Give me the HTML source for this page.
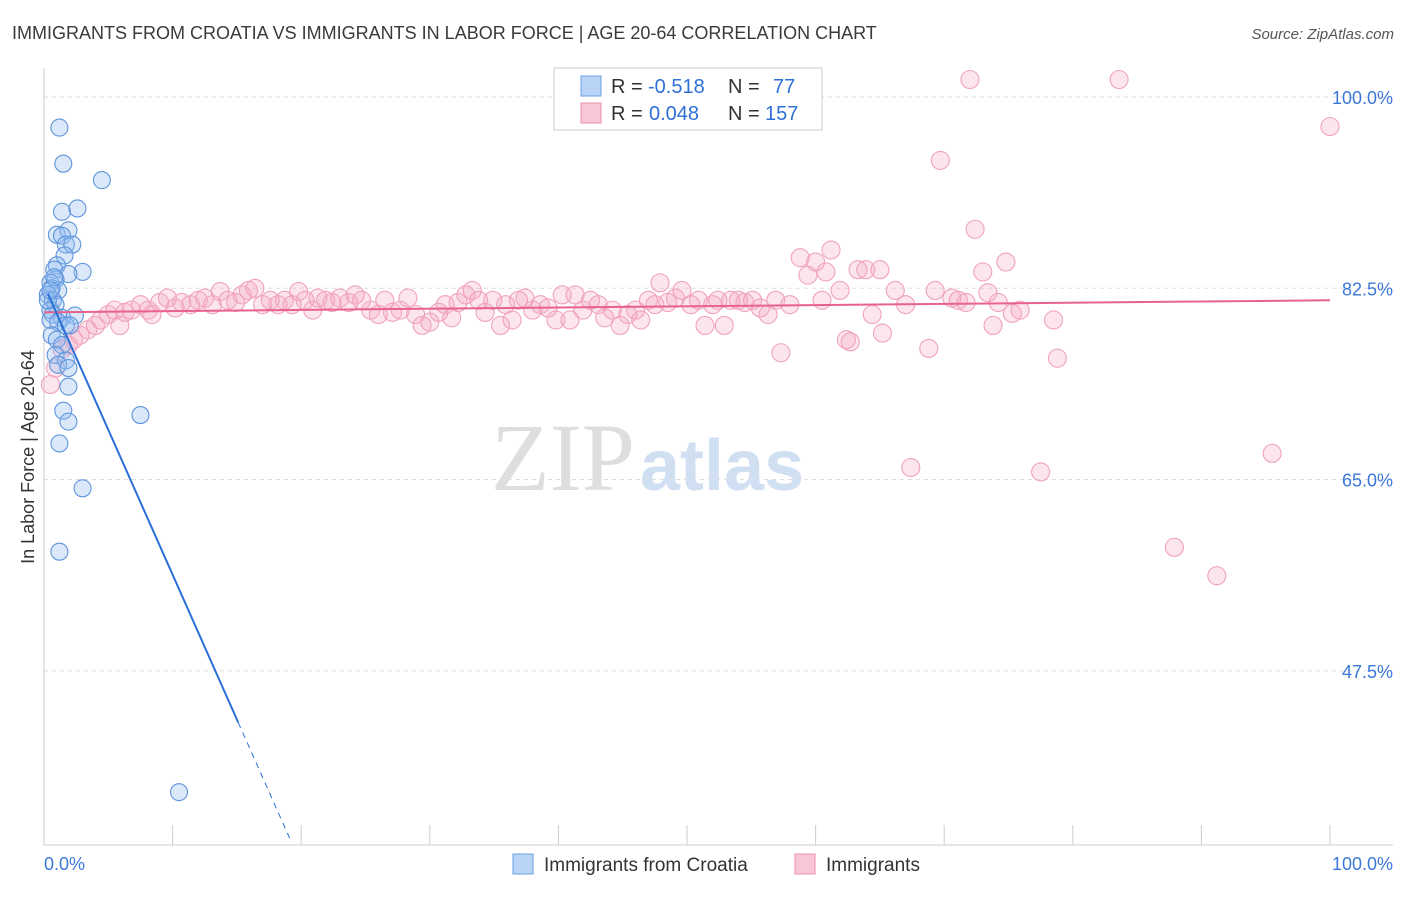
<!DOCTYPE html>
<html><head><meta charset="utf-8"><style>
body{margin:0;background:#fff;font-family:"Liberation Sans",sans-serif}
</style></head><body>
<svg id="chart" width="1406" height="892" xmlns="http://www.w3.org/2000/svg" font-family="Liberation Sans, sans-serif">
<text x="12" y="39" font-size="18" fill="#3a3a3a">IMMIGRANTS FROM CROATIA VS IMMIGRANTS IN LABOR FORCE | AGE 20-64 CORRELATION CHART</text>
<text x="1394" y="39" font-size="15" fill="#555" text-anchor="end" font-style="italic">Source: ZipAtlas.com</text>
<g>
<text x="635" y="490" font-size="96" fill="#dedede" text-anchor="end" font-family="Liberation Serif, serif">ZIP</text>
<text x="640" y="490" font-size="72" fill="#d0dff2" font-weight="bold">atlas</text>
</g>
<g id="grid"></g>
<g id="axes"></g>
<g id="marks"></g>
<text transform="translate(34,457) rotate(-90)" font-size="18" fill="#333" text-anchor="middle">In Labor Force | Age 20-64</text>
<g>
<rect x="554" y="68" width="268" height="62" fill="#fff" stroke="#ccc"/>
<rect x="581" y="76" width="20" height="20" fill="#b8d3f5" stroke="#6a9fe0"/>
<rect x="581" y="103" width="20" height="20" fill="#f9c6d6" stroke="#ec8fb0"/>
<text x="611" y="93" font-size="20" fill="#333">R =</text>
<text x="648" y="93" font-size="20" fill="#2f6fd6">-0.518</text>
<text x="728" y="93" font-size="20" fill="#333">N =</text>
<text x="773" y="93" font-size="20" fill="#2f6fd6">77</text>
<text x="611" y="120" font-size="20" fill="#333">R =</text>
<text x="649" y="120" font-size="20" fill="#2f6fd6">0.048</text>
<text x="728" y="120" font-size="20" fill="#333">N =</text>
<text x="765" y="120" font-size="20" fill="#2f6fd6">157</text>
</g>
<g>
<rect x="513" y="854" width="20" height="20" fill="#b8d3f5" stroke="#6a9fe0"/>
<text x="544" y="871" font-size="19" fill="#333">Immigrants from Croatia</text>
<rect x="795" y="854" width="20" height="20" fill="#f9c6d6" stroke="#ec8fb0"/>
<text x="826" y="871" font-size="19" fill="#333">Immigrants</text>
</g>
</svg>
<script>
const yTicks=[100,82.5,65,47.5];
const yTickLabels=["100.0%","82.5%","65.0%","47.5%"];
const xTickLabels=["0.0%","100.0%"];
const blueX=[1.2,1.5,4.5,1.4,2.6,1.0,1.9,1.4,1.7,2.2,1.6,1.0,0.8,3.0,1.9,0.9,0.5,0.6,1.1,0.3,0.7,0.9,0.5,0.7,1.4,2.4,0.5,1.1,1.7,0.6,1.0,1.4,0.9,1.7,1.1,1.9,1.9,1.5,7.5,1.9,1.2,3.0,1.2,10.5,0.8,0.3,2.0,0.5];
const blueY=[97.2,93.9,92.4,89.5,89.8,87.4,87.8,87.3,86.5,86.5,85.5,84.6,84.2,84.0,83.8,83.3,83.0,82.5,82.3,81.9,81.4,81.0,80.5,80.1,79.8,80.0,79.6,79.4,79.1,78.2,77.8,77.3,76.4,75.9,75.5,75.2,73.5,71.3,70.9,70.3,68.3,64.2,58.4,36.4,83.5,81.4,79.1,82.3];
const pinkX=[0.5,0.9,1.4,1.9,2.3,2.8,3.4,4.0,4.4,5.0,5.5,5.9,6.3,6.8,7.5,8.1,8.4,9.0,9.6,10.2,10.7,11.4,12.0,12.5,13.1,13.7,14.3,14.9,15.4,15.9,16.4,17.0,17.6,18.2,18.7,19.3,19.8,20.3,20.9,21.3,21.9,22.4,23.0,23.7,24.2,24.7,25.4,26.0,26.5,27.1,27.7,28.3,28.9,29.4,30.0,30.7,31.2,31.7,32.2,32.8,33.3,33.8,34.3,34.9,35.5,35.9,36.4,36.9,37.4,38.0,38.6,39.2,39.8,40.3,40.9,41.3,41.9,42.5,43.1,43.6,44.2,44.8,45.4,46.0,46.4,47.0,47.5,47.9,48.5,49.1,49.6,50.3,50.9,51.4,52.0,52.4,52.9,53.4,54.0,54.5,55.1,55.7,56.3,56.9,57.3,58.0,58.8,59.4,60.0,60.5,60.8,61.2,61.9,62.4,62.7,63.3,63.9,64.4,65.0,65.2,66.2,67.0,67.4,68.8,69.3,69.7,70.6,71.1,71.7,72.0,72.4,73.0,73.4,73.8,74.2,74.8,75.3,75.9,77.5,78.5,78.8,83.6,87.9,91.2,95.5,100.0];
const pinkY=[73.7,75.2,76.9,77.3,77.8,78.2,78.7,79.1,79.6,80.1,80.5,79.1,80.3,80.5,81.0,80.5,80.1,81.2,81.6,80.7,81.2,81.0,81.4,81.6,81.0,82.2,81.4,81.2,81.9,82.3,82.5,81.0,81.4,81.0,81.4,81.0,82.2,81.4,80.5,81.6,81.4,81.2,81.6,81.2,81.9,81.4,80.5,80.1,81.4,80.3,80.5,81.6,80.1,79.1,79.4,80.3,81.0,79.8,81.2,81.9,82.3,81.4,80.3,81.4,79.1,81.0,79.6,81.4,81.6,80.5,81.0,80.7,79.6,81.9,79.6,81.9,80.5,81.4,81.0,79.8,80.5,79.1,80.1,80.5,79.6,81.4,81.0,83.0,81.2,81.6,82.3,81.0,81.4,79.1,81.0,81.4,79.1,81.4,81.4,81.2,81.4,80.7,80.1,81.4,76.6,81.0,85.3,83.7,84.9,81.4,84.0,86.0,82.3,77.8,77.6,84.2,84.2,80.1,84.2,78.4,82.3,81.0,66.1,77.0,82.3,94.2,81.6,81.4,81.2,101.6,87.9,84.0,82.1,79.1,81.2,84.9,80.2,80.5,65.7,79.6,76.1,101.6,58.8,56.2,67.4,97.3];
const blueTrend={intercept:82.8,slope:-2.65,solidEnd:15.1,dashEnd:19.1,start:0.3};
const pinkTrend={intercept:80.3,slope:0.011};
const NS="http://www.w3.org/2000/svg";
const xs=v=>44+v*12.86;
const ys=v=>97+(100-v)*10.93;
function mk(tag,attrs,parent){const e=document.createElementNS(NS,tag);for(const k in attrs)e.setAttribute(k,attrs[k]);parent.appendChild(e);return e;}
const grid=document.getElementById('grid'),axes=document.getElementById('axes'),marks=document.getElementById('marks');
yTicks.forEach((t,i)=>{
 const l=mk('line',{x1:44,x2:1393,y1:ys(t),y2:ys(t),stroke:'#ddd','stroke-dasharray':'4,4'},grid);
 
 
 const tx=mk('text',{x:1393,y:ys(t)+7,'font-size':18,fill:'#3b78d8','text-anchor':'end'},axes);
 tx.textContent=yTickLabels[i];
 
 
});
mk('line',{x1:44,x2:44,y1:68,y2:845,stroke:'#ccc'},axes);
mk('line',{x1:44,x2:1393,y1:845,y2:845,stroke:'#ccc'},axes);
for(let i=0;i<=10;i++){const t=mk('line',{x1:xs(i*10),x2:xs(i*10),y1:825,y2:845,stroke:'#ccc'},axes);
 
 }
[[0,'start',44],[100,'end',1393]].forEach((a,i)=>{const tx=mk('text',{x:a[2],y:870,'font-size':18,fill:'#3b78d8','text-anchor':a[1]},axes);tx.textContent=xTickLabels[i];
 
 });
pinkX.forEach((x,i)=>{const c=mk('circle',{cx:xs(x),cy:ys(pinkY[i]),r:9,fill:'rgba(246,170,196,0.3)',stroke:'#f0a2bf','stroke-width':1.1},marks);
 
 });
blueX.forEach((x,i)=>{const c=mk('circle',{cx:xs(x),cy:ys(blueY[i]),r:8.5,fill:'rgba(150,190,240,0.35)',stroke:'#5f95dc','stroke-width':1.1},marks);
 
 });
const pl=mk('line',{x1:xs(0),y1:ys(pinkTrend.intercept),x2:xs(100),y2:ys(pinkTrend.intercept+pinkTrend.slope*100),stroke:'#e8628e','stroke-width':2},marks);


const bt=blueTrend,bf=x=>bt.intercept+bt.slope*x;
const bl=mk('line',{x1:xs(bt.start),y1:ys(bf(bt.start)),x2:xs(bt.solidEnd),y2:ys(bf(bt.solidEnd)),stroke:'#2a6fd6','stroke-width':2},marks);


const bd=mk('line',{x1:xs(bt.solidEnd),y1:ys(bf(bt.solidEnd)),x2:xs(bt.dashEnd),y2:ys(bf(bt.dashEnd)),stroke:'#2a6fd6','stroke-width':1,'stroke-dasharray':'6,5'},marks);


</script>
</body></html>
